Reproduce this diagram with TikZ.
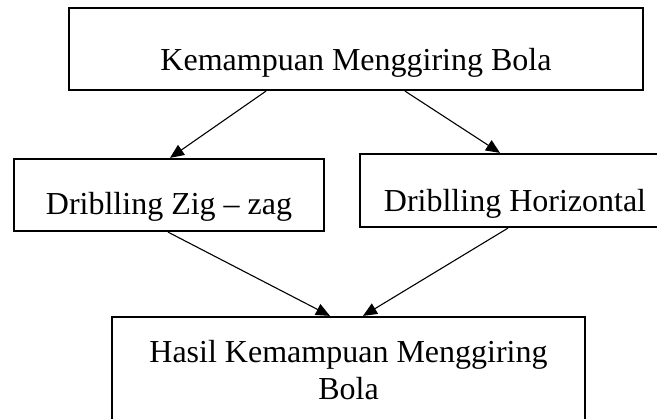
\documentclass[tikz,border=0pt]{standalone}
\usepackage{fontspec}
\setmainfont{Liberation Serif}
\usetikzlibrary{arrows.meta}
\begin{document}
\begin{tikzpicture}[x=1pt,y=-1pt,
  box/.style={draw, line width=2.2pt, inner sep=0pt},
  lbl/.style={anchor=base, inner sep=0pt, font=\fontsize{32}{37}\selectfont},
  link/.style={line width=1.1pt, -{Triangle[length=14pt,width=12pt]}}]
\useasboundingbox (0,0) rectangle (657,419);
\clip (0,0) rectangle (657,419);

% boxes
\node[box, minimum width=574pt, minimum height=82pt] (kemampuan) at (356,49) {};
\node[box, minimum width=310pt, minimum height=72pt] (zigzag) at (169,195) {};
\node[box, minimum width=310pt, minimum height=73pt] (horizontal) at (515,190.5) {};
\node[box, minimum width=473pt, minimum height=120pt] (hasil) at (348.5,377) {};

% labels
\node[lbl] (tKemampuan) at (356,71) {Kemampuan Menggiring Bola};
\node[lbl] (tZigzag) at (169,215) {Driblling Zig – zag};
\node[lbl] (tHorizontal) at (515,212) {Driblling Horizontal};
\node[lbl] (tHasilA) at (348.5,363) {Hasil Kemampuan Menggiring};
\node[lbl] (tHasilB) at (348.5,400) {Bola};

% connectors
\draw[link] (kemampuan.south -| 266,0) -- (zigzag.north -| 170,0);
\draw[link] (kemampuan.south -| 405,0) -- (horizontal.north -| 500,0);
\draw[link] (zigzag.south -| 168,0) -- (hasil.north -| 330,0);
\draw[link] (horizontal.south -| 508,0) -- (hasil.north -| 363,0);
\end{tikzpicture}
\end{document}
